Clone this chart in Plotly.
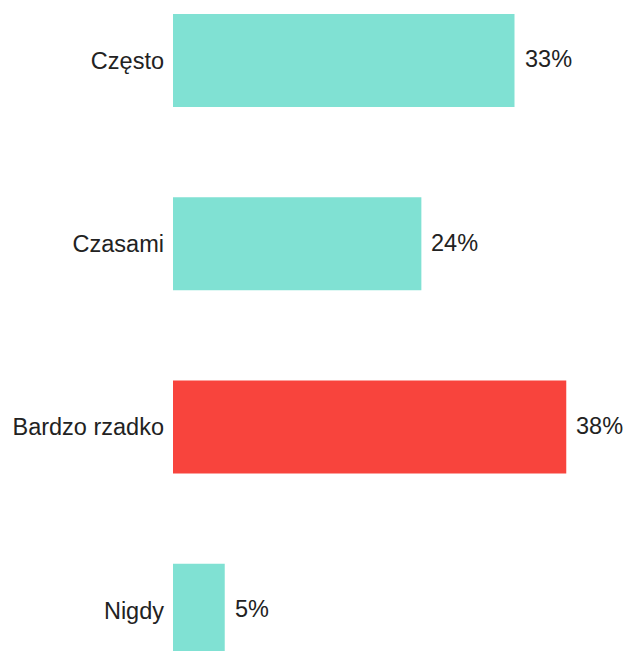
import plotly.graph_objects as go

categories = ["Często", "Czasami", "Bardzo rzadko", "Nigdy"]
values = [33, 24, 38, 5]
highlight = "Bardzo rzadko"

teal = "#80E1D3"
red = "#F8443D"
bar_colors = [red if c == highlight else teal for c in categories]

font_family = "Liberation Sans, Arial, sans-serif"
font_size = 23.5
text_color = "#222222"

fig = go.Figure(
    go.Bar(
        x=values,
        y=categories,
        orientation="h",
        marker=dict(color=bar_colors, line=dict(width=0)),
        width=0.507,
        hoverinfo="skip",
    )
)

# value labels to the right of each bar
for c, v in zip(categories, values):
    fig.add_annotation(
        x=v, y=c, text=f"{v}%", showarrow=False,
        xanchor="left", yanchor="middle", xshift=8, yshift=1,
        font=dict(family=font_family, size=font_size, color=text_color),
    )

fig.update_layout(
    width=626, height=651,
    margin=dict(l=173, r=8, t=0, b=0),
    paper_bgcolor="white", plot_bgcolor="white",
    showlegend=False,
    font=dict(family=font_family, size=font_size, color=text_color),
    xaxis=dict(range=[0, 43], visible=False, fixedrange=True),
    yaxis=dict(
        type="category",
        categoryorder="array", categoryarray=categories,
        range=[3.222, -0.330],
        showgrid=False, zeroline=False, showline=False,
        ticks="", ticklabelstandoff=8,
        tickfont=dict(family=font_family, size=font_size, color=text_color),
        fixedrange=True,
    ),
)

fig.write_html("out.html")
